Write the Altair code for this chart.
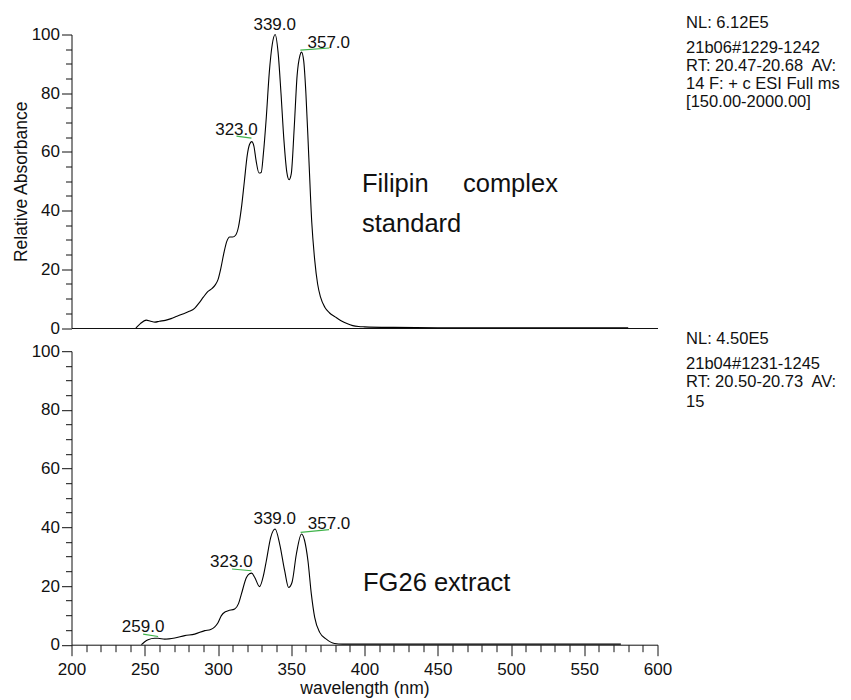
import altair as alt
import pandas as pd

FONT = "Liberation Sans"

# ---------------- spectra ----------------
top_nm = [244, 247, 251, 254, 257, 260, 264, 268, 272, 276, 280, 284, 287, 290, 293, 296, 298,
          300, 302, 304, 306, 308, 310, 312, 314, 316, 318, 320, 321.5, 323, 324.5, 326, 328,
          329.5, 331, 333, 335, 337, 339, 341, 343, 345, 347, 348.5, 350, 352, 354, 356, 357,
          358.5, 360, 362, 364, 366, 368, 370, 373, 376, 380, 384, 388, 392, 396, 400, 420,
          450, 500, 550, 580]
top_val = [0, 1.5, 2.7, 2.3, 2.0, 2.3, 2.6, 3.2, 4.0, 4.8, 5.6, 6.7, 8.5, 10.5, 12.4, 13.5, 14.6,
           16.5, 20.5, 25.5, 29.5, 31.0, 31.0, 31.6, 34.5, 41, 50, 59, 62.5, 63.5, 62, 57, 52.8,
           53, 59.5, 72, 87, 96.5, 100, 94, 80, 64, 53, 50.5, 52.5, 68, 86, 93, 94,
           91, 80, 58, 36, 23.2, 15, 10.5, 7, 5.2, 3.8, 2.5, 1.5, 0.8, 0.5, 0.4, 0.2,
           0.1, 0.1, 0.1, 0.1]

bot_nm = [247.7, 250, 252.3, 256.8, 259, 263.6, 270.5, 277.3, 284.1, 291, 295, 297.8, 300,
          302.3, 305, 307, 311.4, 314, 316, 319.4, 321.5, 323, 325, 328.4, 331, 333, 336, 339,
          342.1, 345.5, 348.2, 350.5, 353.5, 357, 359.1, 361.4, 363.7, 366, 369.4, 373.9,
          379.6, 385, 420, 480, 540, 575]
bot_val = [0, 1.0, 1.7, 2.2, 2.2, 1.9, 2.3, 3.1, 3.6, 4.8, 5.2, 6.1, 7.5,
           9.9, 11.2, 11.6, 12.2, 14, 17.3, 22.9, 24.2, 24.4, 23, 19.8, 23.5, 28.6, 36.6, 39.4,
           34.3, 25.2, 19.5, 21.2, 30.9, 37.7, 35.5, 28.6, 17.3, 9.3, 4.2, 1.9,
           0.4, 0.2, 0.2, 0.2, 0.2, 0.2]

# ---------------- peak annotations ----------------
top_lbl = ["339.0", "357.0", "323.0"]
top_lbl_x = [338.7, 375.6, 312.6]
top_lbl_y = [101.5, 95.4, 65.8]
top_seg_x = [312.6, 356.2]
top_seg_x2 = [322.8, 376.0]
top_seg_y = [65.4, 94.7]
top_seg_y2 = [64.7, 95.4]

bot_lbl = ["259.0", "323.0", "339.0", "357.0"]
bot_lbl_x = [248.9, 309.1, 338.7, 375.8]
bot_lbl_y = [4.2, 26.4, 41.1, 39.4]
bot_seg_x = [248.9, 309.6, 356.4]
bot_seg_x2 = [259.1, 322.8, 375.8]
bot_seg_y = [3.6, 25.8, 38.3]
bot_seg_y2 = [2.8, 25.2, 39.2]

# ---------------- big sample texts ----------------
top_big = ["Filipin", "complex", "standard"]
top_big_x = [398.3, 467.2, 398.3]
top_big_y = [46.4, 46.4, 32.8]
bot_big = ["FG26 extract"]
bot_big_x = [399.0]
bot_big_y = [18.2]

# ---------------- header texts (right side) ----------------
top_info = ["NL: 6.12E5", "21b06#1229-1242", "RT: 20.47-20.68\u00a0 AV:", "14 F: + c ESI Full ms",
            "[150.00-2000.00]"]
top_info_y = [102.1, 93.8, 87.7, 81.3, 75.2]
bot_info = ["NL: 4.50E5", "21b04#1231-1245", "RT: 20.50-20.73\u00a0 AV:", "15"]
bot_info_y = [102.5, 94.0, 87.7, 81.1]
info_x = 619.5

XSC = alt.Scale(domain=[200, 600], nice=False, zero=False)
YSC = alt.Scale(domain=[0, 100], nice=False, zero=False)

y_tick_size = {"condition": {"test": "datum.value % 20 === 0", "value": 10}, "value": 6}
x_tick_size = {"condition": {"test": "datum.value % 50 === 0", "value": 11}, "value": 7}

FS = 17
AX = dict(grid=False, domainColor="#111", tickColor="#111", labelColor="#111",
          labelFont=FONT, labelFontSize=FS, titleFont=FONT, titleFontSize=17.5,
          titleFontWeight="normal", titleColor="#111", domainWidth=1, tickWidth=1,
          labelFlush=False)


def y_axis(title):
    kw = dict(AX)
    if title:
        kw["title"] = title
        kw["titlePadding"] = 1
    else:
        kw["title"] = None
    return alt.Axis(values=list(range(0, 101, 5)),
                    labelExpr="datum.value % 20 === 0 ? datum.label : ''",
                    tickSize=y_tick_size, labelPadding=2, **kw)


x_axis_top = alt.Axis(labels=False, ticks=False, domain=True, title=None, grid=False,
                      domainColor="#111", domainWidth=1)
x_axis_bot = alt.Axis(values=list(range(200, 601, 10)),
                      labelExpr="datum.value % 50 === 0 ? datum.label : ''",
                      tickSize=x_tick_size, labelPadding=6, titlePadding=2,
                      title="wavelength (nm)", **AX)


def panel(nm, val, lbl, lx, ly, sx, sx2, sy, sy2, big, bx, by, info, iy, ytitle, xaxis):
    yaxis = y_axis(ytitle)

    def X(f):
        return alt.X(f, type="quantitative", scale=XSC, axis=xaxis)

    def Y(f):
        return alt.Y(f, type="quantitative", scale=YSC, axis=yaxis)

    d = pd.DataFrame({"nm": nm, "val": val})
    line = alt.Chart(d).mark_line(color="black", strokeWidth=1.1, interpolate="monotone").encode(
        x=X("nm"), y=Y("val"))
    seg = alt.Chart(pd.DataFrame({"x": sx, "x2": sx2, "y": sy, "y2": sy2})).mark_rule(
        color="#3fb34a", strokeWidth=1.2).encode(x=X("x"), x2="x2:Q", y=Y("y"), y2="y2:Q")
    lab = alt.Chart(pd.DataFrame({"t": lbl, "x": lx, "y": ly})).mark_text(
        font=FONT, fontSize=FS, color="#111", align="center", baseline="alphabetic").encode(
        x=X("x"), y=Y("y"), text="t:N")
    bigt = alt.Chart(pd.DataFrame({"t": big, "x": bx, "y": by})).mark_text(
        font=FONT, fontSize=25.5, color="#111", align="left", baseline="alphabetic").encode(
        x=X("x"), y=Y("y"), text="t:N")
    inf = alt.Chart(pd.DataFrame({"t": info, "x": [info_x] * len(info), "y": iy})).mark_text(
        font=FONT, fontSize=16.5, color="#111", align="left", baseline="alphabetic").encode(
        x=X("x"), y=Y("y"), text="t:N")
    return alt.layer(line, seg, lab, bigt, inf).properties(width=586, height=293.5)


top = panel(top_nm, top_val, top_lbl, top_lbl_x, top_lbl_y, top_seg_x, top_seg_x2, top_seg_y,
            top_seg_y2, top_big, top_big_x, top_big_y, top_info, top_info_y,
            "Relative Absorbance", x_axis_top)
bot = panel(bot_nm, bot_val, bot_lbl, bot_lbl_x, bot_lbl_y, bot_seg_x, bot_seg_x2, bot_seg_y,
            bot_seg_y2, bot_big, bot_big_x, bot_big_y, bot_info, bot_info_y,
            None, x_axis_bot)

chart = (
    alt.vconcat(top, bot, spacing=22.7, bounds="flush")
    .properties(padding={"left": 3.5, "top": 6.5, "right": 0, "bottom": 0})
    .configure(font=FONT, background="white")
    .configure_view(strokeWidth=0, strokeOpacity=0)
    .configure_axis(grid=False)
)

chart.save("out.html", embed_options={"renderer": "svg", "actions": False})
